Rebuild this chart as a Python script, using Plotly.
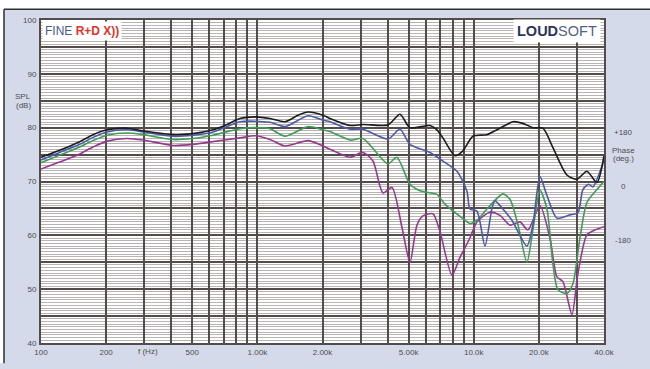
import plotly.graph_objects as go

# ---------------- data ----------------
black_f = [100, 122, 151, 174, 202, 250, 296, 407, 504, 623, 724, 831, 975, 1144, 1341, 1540, 1713, 2010,
           2165, 2679, 3076, 4013, 4560, 5073, 6275, 6760, 7205, 8188, 8915, 9915, 11510, 13216, 15176,
           16879, 18773, 20885, 23227, 26954, 29985, 33353, 37100, 40000]
black_db = [74.5, 75.8, 77.4, 78.7, 79.6, 79.9, 79.4, 78.7, 78.9, 79.6, 80.6, 81.7, 82.0, 81.7, 81.1, 82.3, 82.9, 82.3,
            81.7, 80.4, 80.6, 80.5, 82.5, 80.0, 80.4, 79.6, 78.1, 74.8, 75.7, 78.4, 78.7, 79.9, 81.1,
            80.8, 80.0, 79.9, 76.3, 71.2, 70.4, 71.9, 69.8, 74.8]

blue_f = [100, 122, 151, 174, 202, 250, 296, 407, 504, 623, 831, 975, 1144, 1341, 1713, 2010, 2165, 2679,
          3076, 4013, 4560, 5073, 6275, 7205, 8365, 9302, 9603, 10347, 11267, 12138, 12531, 13643, 15015,
          17611, 18773, 20234, 21796, 24240, 27826, 30302, 31960, 34000, 35500, 40000]
blue_db = [74.0, 75.4, 76.9, 78.2, 79.2, 79.6, 79.2, 78.4, 78.6, 79.2, 81.1, 81.2, 81.0, 80.2, 82.2, 81.4, 81.1, 79.7,
           79.7, 77.9, 79.7, 76.9, 75.4, 73.8, 71.9, 68.2, 64.9, 64.5, 58.0, 65.0, 66.4, 64.9, 62.8,
           58.0, 62.0, 70.9, 67.4, 63.2, 63.8, 64.2, 68.5, 69.5, 69.0, 74.0]

green_f = [100, 122, 151, 174, 202, 250, 296, 407, 504, 623, 831, 975, 1144, 1341, 1713, 2010, 2165, 2679,
           3076, 4013, 4417, 5073, 5642, 6077, 6760, 7360, 8915, 9603, 10347, 11510, 13643, 14700, 16004,
           17611, 18773, 20234, 21796, 23227, 24496, 26954, 28732, 30957, 33353, 37100, 40000]
green_db = [73.5, 74.9, 76.4, 77.6, 78.6, 79.0, 78.7, 77.8, 78.0, 78.6, 79.8, 80.0, 79.8, 78.4, 80.2, 79.6, 79.3, 77.7,
            78.0, 73.3, 74.5, 69.5, 68.3, 68.0, 67.6, 65.8, 63.1, 62.2, 62.8, 64.9, 67.7, 66.7, 62.0,
            55.0, 61.0, 68.4, 64.9, 54.7, 49.9, 49.2, 51.0, 59.5, 66.1, 68.5, 70.0]

purple_f = [100, 122, 151, 174, 202, 250, 296, 407, 504, 623, 831, 975, 1144, 1341, 1713, 2010, 2165, 2679,
            3076, 3421, 3805, 4188, 4658, 5073, 5466, 5825, 6479, 6981, 7933, 8636, 9603, 10347, 11883,
            13216, 14700, 16347, 17800, 20234, 22497, 24240, 25837, 28427, 30302, 33353, 36319, 40000]
purple_db = [72.3, 73.6, 75.1, 76.4, 77.5, 78.0, 77.7, 76.7, 76.9, 77.4, 78.1, 78.5, 77.8, 76.6, 77.6, 76.6, 76.0, 74.5,
             75.4, 73.8, 67.9, 68.9, 61.5, 55.0, 61.9, 63.6, 64.0, 60.7, 52.6, 55.9, 59.5, 62.5, 64.3,
             63.7, 61.9, 62.5, 61.0, 65.5, 59.5, 52.3, 51.4, 45.3, 52.9, 60.1, 61.0, 61.6]

x_grid = [100, 200, 300, 400, 500, 600, 700, 800, 900,
          1000, 2000, 3000, 4000, 5000, 6000, 7000, 8000, 9000,
          10000, 20000, 30000, 40000]
x_labels = {100: "100", 200: "200", 500: "500", 1000: "1.00k", 2000: "2.00k",
            5000: "5.00k", 10000: "10.0k", 20000: "20.0k", 40000: "40.0k"}
y_grid = [40, 45, 50, 55, 60, 65, 70, 75, 80, 85, 90, 95, 100]
y_labels = {40: "40", 50: "50", 60: "60", 70: "70", 80: "80", 90: "90", 100: "100"}

# ---------------- figure ----------------
W, H = 650, 369
L, R, T, B = 41, 46, 20, 16
PW, PH = W - L - R, H - T - B


def px(x):
    return (x - L) / PW


def py(y):
    return (H - B - y) / PH


fig = go.Figure()
series = [
    (purple_f, purple_db, "#97388f"),
    (green_f, green_db, "#3f9b58"),
    (blue_f, blue_db, "#4b5aa8"),
    (black_f, black_db, "#1c1c1c"),
]
for f, db, c in series:
    fig.add_trace(go.Scatter(x=f, y=db, mode="lines",
                             line=dict(color=c, width=1.6, shape="spline", smoothing=0.7),
                             showlegend=False, hoverinfo="skip"))

grid_dark = "#544b4b"
tick_font = dict(family="Liberation Sans, Arial, sans-serif", size=8, color="#4d4d4d")

fig.update_xaxes(type="log", range=[2, 4.60206], tickmode="array", tickvals=x_grid,
                 ticktext=[x_labels.get(v, "") for v in x_grid],
                 showgrid=True, gridcolor=grid_dark, gridwidth=2,
                 showline=True, linecolor=grid_dark, linewidth=2, mirror=True,
                 ticks="", tickfont=tick_font, zeroline=False, fixedrange=True)
fig.update_yaxes(range=[40, 100], tickmode="array", tickvals=y_grid,
                 ticktext=[y_labels.get(v, "") for v in y_grid],
                 showgrid=True, gridcolor=grid_dark, gridwidth=2,
                 minor=dict(dtick=0.5, showgrid=True, gridcolor="#b8b2b2", gridwidth=1, ticks=""),
                 showline=True, linecolor=grid_dark, linewidth=2, mirror=True,
                 ticks="", tickfont=tick_font, ticklabelstandoff=1, zeroline=False, fixedrange=True)

shapes = [
    dict(type="rect", xref="paper", yref="paper", x0=px(-5), x1=px(W + 5), y0=py(9), y1=py(-5),
         fillcolor="white", line=dict(width=0), layer="above"),
    dict(type="rect", xref="paper", yref="paper", x0=px(-5), x1=px(4), y0=py(H + 5), y1=py(-5),
         fillcolor="white", line=dict(width=0), layer="above"),
    dict(type="line", xref="paper", yref="paper", x0=px(4), x1=px(W + 5), y0=py(9), y1=py(9),
         line=dict(color="#2e2e2e", width=1.5)),
    dict(type="line", xref="paper", yref="paper", x0=px(4), x1=px(4), y0=py(9), y1=py(H + 5),
         line=dict(color="#2e2e2e", width=1.5)),
]

small = dict(family="Liberation Sans, Arial, sans-serif", size=8, color="#4d4d4d")
ann = []


def text(t, x, y, font=small, **kw):
    ann.append(dict(text=t, xref="paper", yref="paper", x=px(x), y=py(y),
                    xanchor="center", yanchor="middle", showarrow=False, font=font, **kw))


text("SPL", 23, 99)
text("(dB)", 23, 108)
text("f (Hz)", 148, 362)
text("+180", 623, 136)
text("Phase", 623, 155)
text("(deg.)", 623, 163)
text("0", 623, 192)
text("-180", 623, 247)

text("FINE <b><span style='color:#e3322b'>R+D X))</span></b>", 82, 31,
     font=dict(family="Liberation Sans, Arial, sans-serif", size=12, color="#4b5c8a"),
     bgcolor="white", borderpad=2)
text("<b>LOUD</b><span style='color:#56617f'>SOFT</span>", 557, 31,
     font=dict(family="Liberation Sans, Arial, sans-serif", size=14.5, color="#2b365c"),
     bgcolor="white", borderpad=3)

fig.update_layout(width=W, height=H, margin=dict(l=L, r=R, t=T, b=B),
                  paper_bgcolor="#d4daea", plot_bgcolor="white",
                  shapes=shapes, annotations=ann)

fig.write_html("out.html", config={"displayModeBar": False, "staticPlot": True},
               post_script="document.body.style.margin='0';document.body.style.padding='0';")
